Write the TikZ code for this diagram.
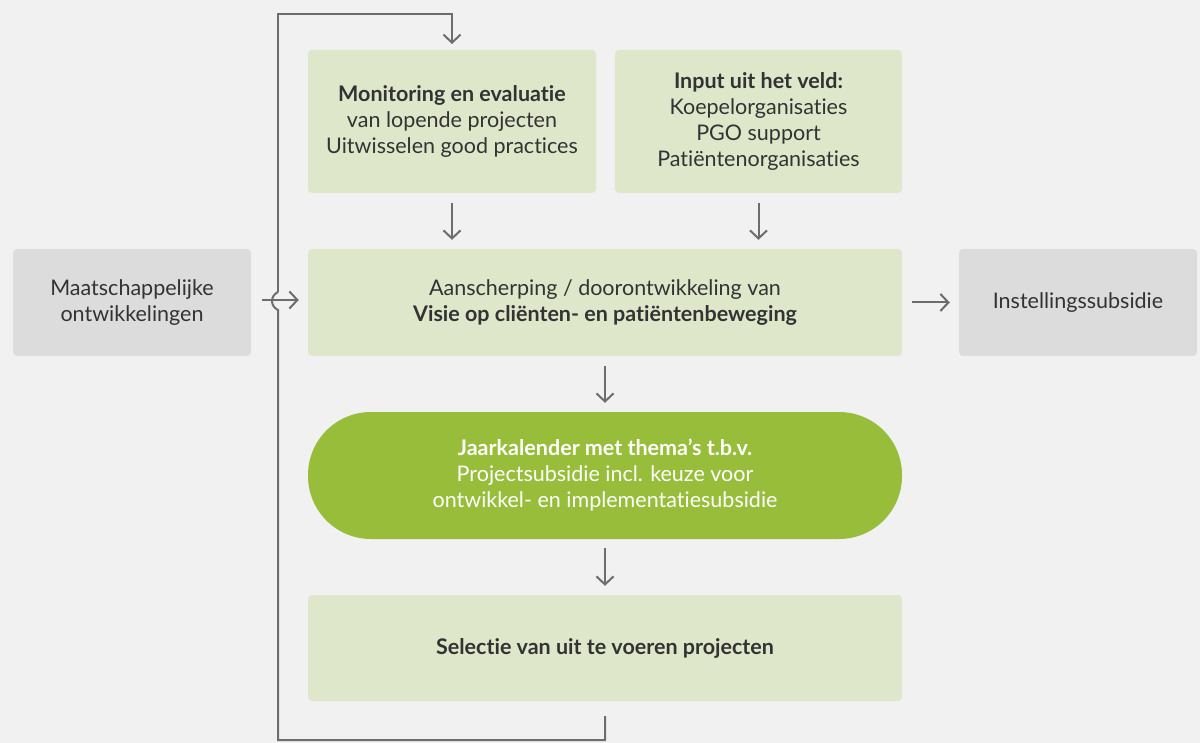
\documentclass[tikz,border=0pt]{standalone}
\usepackage{fontspec}
\setmainfont{Lato}[Ligatures={NoCommon}]
\usetikzlibrary{arrows.meta}
\definecolor{bg}{HTML}{F1F1F1}
\definecolor{lgreen}{HTML}{DFE7CB}
\definecolor{lgray}{HTML}{DCDCDC}
\definecolor{dgreen}{HTML}{97BD3B}
\definecolor{txt}{HTML}{333333}
\definecolor{arr}{HTML}{6D6D6D}
\begin{document}
\begin{tikzpicture}[x=1pt,y=-1pt,
  box/.style={fill=lgreen,rounded corners=4pt,inner sep=0pt,align=center,text=txt,
    font=\fontsize{21.5}{26}\selectfont},
  graybox/.style={box,fill=lgray},
  pill/.style={box,fill=dgreen,rounded corners=63pt,text=white},
  conn/.style={draw=arr,line width=2pt,-{Straight Barb[length=8pt,width=17pt,line width=2pt]}},
  plain/.style={draw=arr,line width=2pt}]
\fill[bg] (0,0) rectangle (1200,743);
\useasboundingbox (0,0) rectangle (1200,743);

\node[graybox,minimum width=238pt,minimum height=107pt] (maat) at (132,302.5)
  {Maatschappelijke\\ontwikkelingen};
\node[box,minimum width=288pt,minimum height=143pt] (mon) at (452,121.5)
  {\textbf{Monitoring en evaluatie}\\van lopende projecten\\Uitwisselen good practices};
\node[box,minimum width=287pt,minimum height=143pt] (inp) at (758.5,121.5)
  {\textbf{Input uit het veld:}\\Koepelorganisaties\\PGO support\\Patiëntenorganisaties};
\node[box,minimum width=594pt,minimum height=107pt] (visie) at (605,302.5)
  {Aanscherping / doorontwikkeling van\\\textbf{Visie op cliënten- en patiëntenbeweging}};
\node[graybox,minimum width=238pt,minimum height=107pt] (inst) at (1078,302.5)
  {Instellingssubsidie};
\node[pill,minimum width=594pt,minimum height=127pt] (jaar) at (605,475.5)
  {\textbf{Jaarkalender met thema’s t.b.v.}\\Projectsubsidie incl. keuze voor\\ontwikkel- en implementatiesubsidie};
\node[box,minimum width=594pt,minimum height=106pt] (sel) at (605,648)
  {\textbf{Selectie van uit te voeren projecten}};

\draw[conn] ([yshift=-10pt]mon.south) -- ([yshift=9pt]mon.south |- visie.north);
\draw[conn] ([yshift=-10pt]inp.south) -- ([yshift=9pt]inp.south |- visie.north);
\draw[conn] ([yshift=-10pt]visie.south) -- ([yshift=9pt]jaar.north);
\draw[conn] ([yshift=-9pt]jaar.south) -- ([yshift=9pt]sel.north);
\draw[conn] ([xshift=10pt]visie.east) -- ([xshift=-9pt]inst.west);
\draw[conn] ([xshift=11pt]maat.east |- 0,300) -- ([xshift=-9pt]visie.west |- 0,300);

\coordinate (l1) at (605,716);
\coordinate (l2) at (605,740);
\coordinate (l3) at (278,740);
\coordinate (h1) at (278,310);
\coordinate (h2) at (278,292);
\coordinate (l4) at (278,14);
\coordinate (l5) at (452,14);
\coordinate (l6) at (452,44);
\draw[plain,line join=miter] (l1) -- (l2) -- (l3) -- (h1)
  .. controls (270,306) and (270,296) .. (h2);
\draw[conn,line join=miter] (h2) -- (l4) -- (l5) -- (l6);
\end{tikzpicture}
\end{document}
